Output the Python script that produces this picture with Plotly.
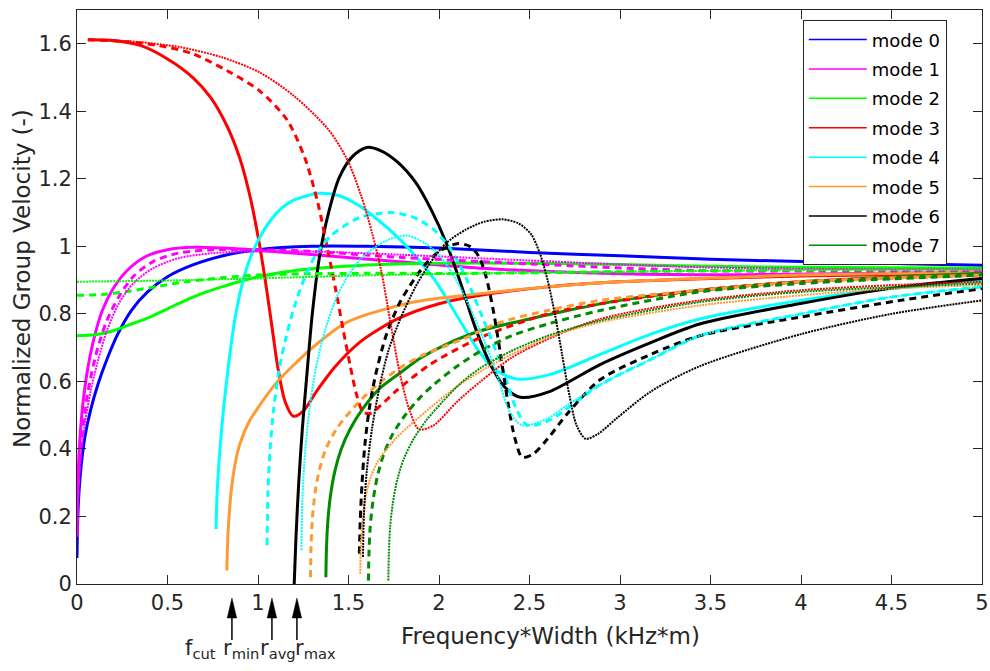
import plotly.graph_objects as go

# ---------------- data ----------------
mode_names = ["mode 0", "mode 1", "mode 2", "mode 3", "mode 4", "mode 5", "mode 6", "mode 7"]
mode_colors = ["#0000ff", "#ff00ff", "#00ff00", "#ff0000", "#00ffff", "#ff9933", "#000000", "#008c00"]

# mode 0 (same for all widths)
m0_solid_x = [0.0, 0.004, 0.012, 0.025, 0.045, 0.075, 0.115, 0.165, 0.225, 0.3, 0.39, 0.5, 0.64, 0.83, 1.0, 1.3, 1.6, 2.0, 2.5, 3.0, 3.5, 4.0, 4.5, 5.0]
m0_solid_y = [0.077, 0.19, 0.28, 0.36, 0.44, 0.515, 0.59, 0.665, 0.74, 0.81, 0.865, 0.91, 0.945, 0.975, 0.99, 1.0, 1.0, 0.995, 0.982, 0.972, 0.962, 0.955, 0.949, 0.944]

# mode 1
m1_solid_x = [0.0, 0.003, 0.009, 0.02, 0.036, 0.06, 0.095, 0.14, 0.2, 0.28, 0.38, 0.5, 0.64, 0.8, 1.01, 1.56, 2.23, 2.8, 3.44, 4.2, 5.0]
m1_solid_y = [0.14, 0.26, 0.36, 0.46, 0.55, 0.64, 0.73, 0.81, 0.875, 0.93, 0.97, 0.99, 0.997, 0.995, 0.988, 0.964, 0.935, 0.922, 0.916, 0.919, 0.924]
m1_dash_x = [0.0, 0.004, 0.012, 0.025, 0.045, 0.075, 0.115, 0.165, 0.23, 0.31, 0.42, 0.56, 0.75, 1.0, 1.3, 1.8, 2.5, 3.44, 4.2, 5.0]
m1_dash_y = [0.15, 0.25, 0.34, 0.43, 0.52, 0.61, 0.70, 0.78, 0.85, 0.91, 0.955, 0.98, 0.99, 0.99, 0.985, 0.967, 0.948, 0.928, 0.927, 0.928]
m1_dot_x = [0.0, 0.004, 0.012, 0.025, 0.045, 0.075, 0.115, 0.165, 0.23, 0.31, 0.42, 0.56, 0.75, 1.0, 1.3, 1.8, 2.5, 3.44, 4.2, 5.0]
m1_dot_y = [0.15, 0.24, 0.32, 0.40, 0.48, 0.57, 0.66, 0.75, 0.83, 0.89, 0.935, 0.965, 0.98, 0.985, 0.985, 0.975, 0.958, 0.938, 0.933, 0.932]

# mode 2
m2_solid_x = [0.0, 0.1, 0.2, 0.3, 0.4, 0.5, 0.6, 0.7, 0.8, 0.9, 1.0, 1.2, 1.4, 1.6, 2.0, 2.5, 3.0, 3.5, 4.0, 5.0]
m2_solid_y = [0.735, 0.738, 0.75, 0.77, 0.79, 0.815, 0.84, 0.862, 0.88, 0.896, 0.91, 0.928, 0.938, 0.945, 0.95, 0.95, 0.946, 0.941, 0.938, 0.935]
m2_dash_x = [0.0, 0.15, 0.3, 0.45, 0.6, 0.8, 1.0, 1.3, 1.6, 2.2, 3.0, 4.0, 5.0]
m2_dash_y = [0.855, 0.858, 0.868, 0.882, 0.895, 0.907, 0.915, 0.919, 0.92, 0.92, 0.925, 0.93, 0.932]
m2_dot_x = [0.0, 0.5, 1.0, 1.5, 2.2, 3.0, 4.0, 5.0]
m2_dot_y = [0.895, 0.899, 0.905, 0.913, 0.92, 0.925, 0.93, 0.932]

# mode 3
m3_solid_x = [0.06, 0.2, 0.35, 0.5, 0.64, 0.74, 0.83, 0.9, 0.955, 1.0, 1.04, 1.075, 1.11, 1.15, 1.195, 1.25, 1.325, 1.42, 1.56, 1.77, 2.0, 2.23, 2.6, 3.0, 3.5, 4.0, 5.0]
m3_solid_y = [1.612, 1.61, 1.595, 1.555, 1.50, 1.44, 1.355, 1.26, 1.15, 1.03, 0.9, 0.77, 0.64, 0.54, 0.497, 0.512, 0.572, 0.64, 0.715, 0.785, 0.83, 0.855, 0.88, 0.895, 0.905, 0.912, 0.92]
m3_dash_x = [0.06, 0.275, 0.46, 0.64, 0.83, 1.01, 1.16, 1.26, 1.33, 1.385, 1.43, 1.47, 1.51, 1.545, 1.58, 1.62, 1.68, 1.77, 1.95, 2.23, 2.6, 2.89, 3.44, 4.0, 5.0]
m3_dash_y = [1.612, 1.606, 1.594, 1.57, 1.52, 1.46, 1.375, 1.26, 1.13, 0.99, 0.87, 0.755, 0.645, 0.56, 0.51, 0.505, 0.53, 0.575, 0.65, 0.73, 0.80, 0.83, 0.87, 0.895, 0.915]
m3_dot_x = [0.06, 0.3, 0.57, 0.8, 1.01, 1.2, 1.39, 1.49, 1.57, 1.63, 1.68, 1.73, 1.785, 1.84, 1.89, 1.97, 2.1, 2.23, 2.4, 2.6, 2.89, 3.44, 4.0, 4.5, 5.0]
m3_dot_y = [1.612, 1.607, 1.59, 1.56, 1.515, 1.445, 1.345, 1.26, 1.15, 1.04, 0.93, 0.78, 0.62, 0.51, 0.458, 0.47, 0.54, 0.60, 0.67, 0.725, 0.785, 0.84, 0.87, 0.885, 0.895]

# mode 4
m4_solid_x = [0.768, 0.775, 0.79, 0.81, 0.835, 0.865, 0.9, 0.95, 1.01, 1.10, 1.195, 1.34, 1.45, 1.56, 1.67, 1.785, 1.97, 2.11, 2.22, 2.31, 2.43, 2.61, 2.89, 3.17, 3.44, 4.0, 4.5, 5.0]
m4_solid_y = [0.163, 0.28, 0.40, 0.52, 0.64, 0.76, 0.86, 0.955, 1.027, 1.097, 1.136, 1.157, 1.15, 1.12, 1.075, 1.02, 0.905, 0.785, 0.69, 0.635, 0.607, 0.62, 0.68, 0.74, 0.785, 0.84, 0.875, 0.90]
m4_dash_x = [1.05, 1.055, 1.067, 1.085, 1.115, 1.155, 1.2, 1.26, 1.32, 1.40, 1.56, 1.73, 1.85, 1.97, 2.06, 2.15, 2.24, 2.34, 2.43, 2.49, 2.61, 2.89, 3.17, 3.44, 4.0, 4.5, 5.0]
m4_dash_y = [0.115, 0.27, 0.40, 0.51, 0.63, 0.73, 0.82, 0.91, 0.975, 1.03, 1.085, 1.10, 1.088, 1.05, 0.995, 0.905, 0.79, 0.655, 0.515, 0.47, 0.485, 0.59, 0.665, 0.735, 0.80, 0.85, 0.88]
m4_dot_x = [1.24, 1.245, 1.26, 1.285, 1.32, 1.37, 1.435, 1.5, 1.58, 1.71, 1.82, 1.92, 2.0, 2.09, 2.17, 2.25, 2.33, 2.39, 2.46, 2.6, 2.71, 2.89, 3.17, 3.44, 4.0, 4.5, 5.0]
m4_dot_y = [0.10, 0.25, 0.39, 0.52, 0.64, 0.75, 0.85, 0.915, 0.97, 1.017, 1.032, 1.01, 0.975, 0.905, 0.82, 0.72, 0.605, 0.51, 0.47, 0.49, 0.53, 0.59, 0.665, 0.735, 0.80, 0.85, 0.88]

# mode 5
m5_solid_x = [0.828, 0.832, 0.84, 0.855, 0.875, 0.90, 0.95, 1.01, 1.10, 1.2, 1.29, 1.49, 1.86, 2.23, 2.6, 3.0, 3.44, 4.0, 5.0]
m5_solid_y = [0.04, 0.12, 0.2, 0.29, 0.36, 0.415, 0.48, 0.53, 0.595, 0.65, 0.695, 0.775, 0.835, 0.86, 0.88, 0.895, 0.905, 0.915, 0.925]
m5_dash_x = [1.29, 1.293, 1.30, 1.315, 1.34, 1.375, 1.435, 1.55, 1.67, 1.785, 1.9, 2.13, 2.34, 2.6, 2.89, 3.44, 4.0, 5.0]
m5_dash_y = [0.02, 0.11, 0.19, 0.27, 0.34, 0.40, 0.46, 0.535, 0.595, 0.64, 0.675, 0.725, 0.775, 0.81, 0.84, 0.87, 0.895, 0.915]
m5_dot_x = [1.565, 1.568, 1.578, 1.595, 1.625, 1.67, 1.76, 1.86, 1.97, 2.1, 2.23, 2.4, 2.6, 2.89, 3.44, 4.0, 4.5, 5.0]
m5_dot_y = [0.03, 0.11, 0.19, 0.26, 0.32, 0.37, 0.43, 0.48, 0.53, 0.585, 0.63, 0.68, 0.73, 0.775, 0.825, 0.855, 0.875, 0.885]

# mode 6
m6_solid_x = [1.20, 1.21, 1.225, 1.245, 1.27, 1.30, 1.34, 1.39, 1.45, 1.52, 1.60, 1.68, 1.77, 1.87, 1.96, 2.04, 2.12, 2.20, 2.28, 2.36, 2.45, 2.61, 2.89, 3.17, 3.44, 3.99, 4.55, 5.0]
m6_solid_y = [0.0, 0.14, 0.30, 0.46, 0.62, 0.80, 0.97, 1.10, 1.205, 1.265, 1.293, 1.283, 1.25, 1.19, 1.105, 1.01, 0.89, 0.76, 0.655, 0.585, 0.553, 0.57, 0.65, 0.715, 0.77, 0.83, 0.88, 0.905]
m6_dash_x = [1.56, 1.565, 1.575, 1.59, 1.615, 1.65, 1.71, 1.785, 1.86, 1.93, 2.0, 2.1, 2.17, 2.22, 2.26, 2.30, 2.34, 2.38, 2.42, 2.46, 2.52, 2.6, 2.71, 2.89, 3.17, 3.44, 3.99, 4.55, 5.0]
m6_dash_y = [0.09, 0.19, 0.30, 0.41, 0.52, 0.62, 0.74, 0.835, 0.90, 0.95, 0.985, 1.008, 1.0, 0.97, 0.91, 0.81, 0.68, 0.54, 0.43, 0.375, 0.385, 0.43, 0.505, 0.605, 0.68, 0.735, 0.79, 0.84, 0.875]
m6_dot_x = [1.58, 1.585, 1.6, 1.63, 1.67, 1.72, 1.79, 1.87, 1.95, 2.04, 2.15, 2.25, 2.35, 2.44, 2.51, 2.56, 2.60, 2.64, 2.68, 2.72, 2.76, 2.81, 2.88, 2.98, 3.17, 3.44, 4.0, 4.5, 5.0]
m6_dot_y = [0.08, 0.20, 0.33, 0.46, 0.58, 0.69, 0.79, 0.88, 0.95, 1.01, 1.05, 1.073, 1.08, 1.068, 1.035, 0.975, 0.90, 0.80, 0.68, 0.56, 0.47, 0.43, 0.445, 0.49, 0.57, 0.645, 0.74, 0.80, 0.84]

# mode 7
m7_solid_x = [1.375, 1.378, 1.385, 1.4, 1.425, 1.46, 1.51, 1.58, 1.67, 1.785, 1.9, 2.04, 2.23, 2.5, 2.71, 3.0, 3.44, 4.0, 5.0]
m7_solid_y = [0.02, 0.1, 0.18, 0.26, 0.335, 0.40, 0.46, 0.52, 0.578, 0.625, 0.67, 0.71, 0.75, 0.785, 0.81, 0.84, 0.87, 0.895, 0.92]
m7_dash_x = [1.61, 1.613, 1.62, 1.635, 1.66, 1.695, 1.745, 1.82, 1.9, 1.97, 2.1, 2.23, 2.4, 2.6, 2.89, 3.44, 4.0, 5.0]
m7_dash_y = [0.01, 0.09, 0.17, 0.245, 0.32, 0.385, 0.445, 0.505, 0.555, 0.59, 0.645, 0.69, 0.735, 0.77, 0.81, 0.865, 0.89, 0.915]
m7_dot_x = [1.72, 1.723, 1.73, 1.745, 1.77, 1.805, 1.86, 1.93, 2.02, 2.12, 2.23, 2.4, 2.6, 2.89, 3.44, 4.0, 5.0]
m7_dot_y = [0.01, 0.09, 0.17, 0.24, 0.31, 0.37, 0.43, 0.485, 0.54, 0.595, 0.64, 0.69, 0.735, 0.78, 0.835, 0.865, 0.89]

# markers under the x axis
arrow_x = [0.856, 1.077, 1.215]
marker_labels = ["f<sub>cut</sub>", "r<sub>min</sub>", "r<sub>avg</sub>", "r<sub>max</sub>"]
marker_label_x = [0.68, 0.905, 1.11, 1.32]

x_title = "Frequency*Width (kHz*m)"
y_title = "Normalized Group Velocity (-)"

# ---------------- figure ----------------
solid_curves = [(0, m0_solid_x, m0_solid_y), (1, m1_solid_x, m1_solid_y), (2, m2_solid_x, m2_solid_y),
                (3, m3_solid_x, m3_solid_y), (4, m4_solid_x, m4_solid_y), (5, m5_solid_x, m5_solid_y),
                (6, m6_solid_x, m6_solid_y), (7, m7_solid_x, m7_solid_y)]
dash_curves = [(1, m1_dash_x, m1_dash_y), (2, m2_dash_x, m2_dash_y), (3, m3_dash_x, m3_dash_y),
               (4, m4_dash_x, m4_dash_y), (5, m5_dash_x, m5_dash_y), (6, m6_dash_x, m6_dash_y),
               (7, m7_dash_x, m7_dash_y)]
dot_curves = [(1, m1_dot_x, m1_dot_y), (2, m2_dot_x, m2_dot_y), (3, m3_dot_x, m3_dot_y),
              (4, m4_dot_x, m4_dot_y), (5, m5_dot_x, m5_dot_y), (6, m6_dot_x, m6_dot_y),
              (7, m7_dot_x, m7_dot_y)]

fig = go.Figure()
for curves, dash, width in [(solid_curves, "solid", 3), (dash_curves, "7px,5px", 3), (dot_curves, "2px,1px", 2)]:
    for i, xs, ys in curves:
        fig.add_trace(go.Scatter(x=xs, y=ys, mode="lines", showlegend=False, hoverinfo="skip",
                                 line=dict(color=mode_colors[i], width=width, dash=dash,
                                           shape="spline", smoothing=0.8)))

for i, name in enumerate(mode_names):
    fig.add_trace(go.Scatter(x=[None], y=[None], mode="lines", name=name, legendgroup="g%d" % i,
                             line=dict(color=mode_colors[i], width=1.5)))

font_family = "DejaVu Sans"
axis_color = "#262626"
axis_common = dict(showgrid=False, zeroline=False, showline=True, linecolor=axis_color, linewidth=1,
                   mirror="ticks", ticks="inside", ticklen=9, tickcolor=axis_color, tickwidth=1,
                   automargin=False,
                   tickfont=dict(family=font_family, size=21, color=axis_color))

fig.update_layout(
    width=990, height=671,
    margin=dict(l=77, r=8, t=10, b=87, autoexpand=False),
    paper_bgcolor="white", plot_bgcolor="white",
    font=dict(family=font_family, color=axis_color),
    xaxis=dict(range=[0, 5], tick0=0, dtick=0.5, **axis_common),
    yaxis=dict(range=[0, 1.7], tick0=0, dtick=0.2, **axis_common),
    legend=dict(x=0.802, y=0.982, xanchor="left", yanchor="top", bgcolor="white",
                bordercolor=axis_color, borderwidth=1, tracegroupgap=3, itemwidth=58,
                font=dict(family=font_family, size=18, color="#000000")),
)

# arrows (shaft + long narrow head) pointing up at the x axis
tip_y, head_base_y, tail_y, head_half = -0.0244, -0.0592, -0.0976, 0.026
shapes = []
for xv in arrow_x:
    shapes.append(dict(type="line", xref="x", yref="paper", x0=xv, x1=xv, y0=head_base_y + 0.004, y1=tail_y,
                       line=dict(color="black", width=1.5)))
    shapes.append(dict(type="path", xref="x", yref="paper",
                       path="M %g,%g L %g,%g L %g,%g Z" % (xv, tip_y, xv - head_half, head_base_y, xv + head_half, head_base_y),
                       fillcolor="black", line=dict(color="black", width=0.5)))
fig.update_layout(shapes=shapes)

annotations = []
for lx, lab in zip(marker_label_x, marker_labels):
    annotations.append(dict(x=lx, y=-0.113, xref="x", yref="paper", text=lab, showarrow=False,
                            xanchor="center", yanchor="middle",
                            font=dict(family=font_family, size=21, color=axis_color)))
annotations.append(dict(x=0.5227, y=-0.0906, xref="paper", yref="paper", text=x_title, showarrow=False,
                        xanchor="center", yanchor="middle", font=dict(family=font_family, size=23, color=axis_color)))
annotations.append(dict(x=-0.0608, y=0.533, xref="paper", yref="paper", text=y_title, showarrow=False,
                        textangle=-90, xanchor="center", yanchor="middle",
                        font=dict(family=font_family, size=23, color=axis_color)))
fig.update_layout(annotations=annotations)

fig.write_html("out.html")
